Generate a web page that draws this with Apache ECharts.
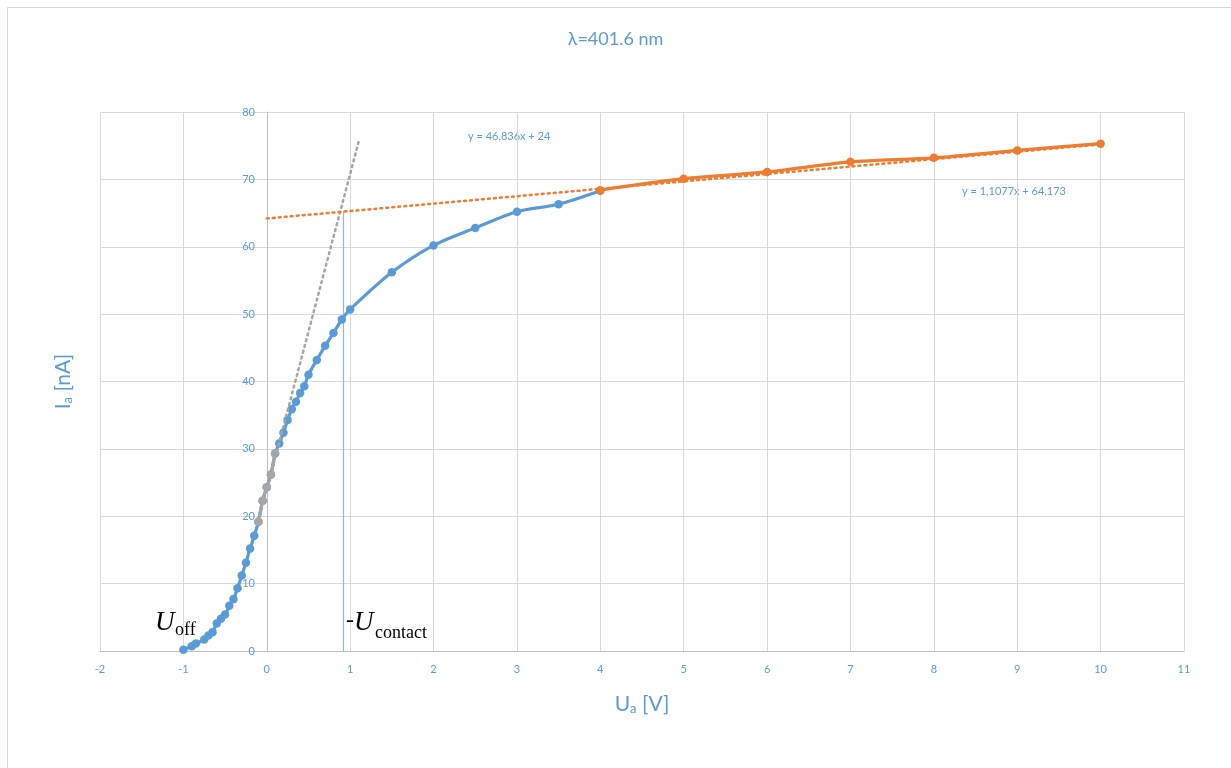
<!DOCTYPE html>
<html>
<head>
<meta charset="utf-8">
<script src="https://cdn.jsdelivr.net/npm/echarts@6/dist/echarts.min.js"></script>
<style>
html,body{margin:0;padding:0;background:#fff;}
#frame{position:absolute;left:7px;top:7px;width:1230px;height:770px;border:1px solid #d9d9d9;box-sizing:border-box;}
#c{position:absolute;left:0;top:0;width:1231px;height:768px;}
</style>
</head>
<body>
<div id="frame"></div>
<div id="c"></div>
<script>
// ---- data ----
const titleText = 'λ=401.6 nm';
const xTicks = {min: -2, max: 11, interval: 1};
const yTicks = {min: 0, max: 80, interval: 10};
// measured curve (blue)
const blueU = [-1.0,-0.9,-0.85,-0.75,-0.7,-0.65,-0.6,-0.55,-0.5,-0.45,-0.4,-0.35,-0.3,-0.25,-0.2,-0.15,-0.1,-0.05,0,0.05,0.1,0.15,0.2,0.25,0.3,0.35,0.4,0.45,0.5,0.6,0.7,0.8,0.9,1.0,1.5,2.0,2.5,3.0,3.5,4.0];
const blueI = [0.2,0.7,1.1,1.7,2.3,2.8,4.1,4.8,5.4,6.7,7.7,9.3,11.2,13.1,15.2,17.1,19.2,22.3,24.3,26.2,29.3,30.8,32.4,34.3,35.9,37.0,38.3,39.3,41.0,43.2,45.3,47.2,49.2,50.7,56.2,60.2,62.8,65.2,66.3,68.3];
// points used for the steep fit (grey)
const greyU = [-0.1,-0.05,0,0.05,0.1];
const greyI = [19.2,22.3,24.3,26.2,29.3];
// saturation points (orange)
const orangeU = [4,5,6,7,8,9,10];
const orangeI = [68.4,70.1,71.1,72.6,73.2,74.3,75.3];
// trendlines (end points, from the displayed equations)
const trendSteepU = [-0.1, 1.1];
const trendSteepI = [19.3, 75.5];
const trendSatU = [0, 10];
const trendSatI = [64.2, 75.2];
const trendSteepLabel = 'y = 46,836x + 24';
const trendSatLabel = 'y = 1,1077x + 64,173';
// -U_contact marker
const contactU = [0.92, 0.92];
const contactI = [0, 65.2];

const zip = (a, b) => a.map((v, i) => [v, b[i]]);

const BLUE = '#5B9BD5', ORANGE = '#ED7D31', GREY = '#A5A5A5';
const FONT = 'Lato, "Open Sans", sans-serif';
const SERIF = '"Liberation Serif", "DejaVu Serif", serif';

const chart = echarts.init(document.getElementById('c'), null, {renderer: 'canvas'});
chart.setOption({
  animation: false,
  title: {
    text: titleText, left: 'center', top: 25,
    textStyle: {color: BLUE, fontSize: 18, fontWeight: 'normal', fontFamily: FONT}
  },
  grid: {left: 100, right: 47, top: 112, bottom: 117, containLabel: false, outerBoundsMode: 'none'},
  xAxis: {
    type: 'value', min: xTicks.min, max: xTicks.max, interval: xTicks.interval,
    axisLine: {show: true, onZero: true, lineStyle: {color: '#bfbfbf', width: 1}},
    axisTick: {show: false},
    axisLabel: {color: BLUE, fontSize: 11, fontFamily: FONT, margin: 13},
    splitLine: {show: true, lineStyle: {color: '#d9d9d9', width: 1}},
    name: '{m|U}{s|a}{m| [V]}', nameLocation: 'middle', nameGap: 38,
    nameTextStyle: {
      color: BLUE, fontFamily: FONT,
      rich: {
        m: {fontSize: 21, color: BLUE, fontFamily: FONT, verticalAlign: 'bottom', lineHeight: 26},
        s: {fontSize: 13, color: BLUE, fontFamily: FONT, verticalAlign: 'bottom', lineHeight: 16}
      }
    }
  },
  yAxis: {
    type: 'value', min: yTicks.min, max: yTicks.max, interval: yTicks.interval,
    axisLine: {show: true, onZero: true, lineStyle: {color: '#bfbfbf', width: 1}},
    axisTick: {show: false},
    axisLabel: {color: BLUE, fontSize: 11, fontFamily: FONT, margin: -155},
    splitLine: {show: true, lineStyle: {color: '#d9d9d9', width: 1}},
    name: '{m|I}{s|a}{m| [nA]}', nameLocation: 'middle', nameGap: 26, nameRotate: 90,
    nameTextStyle: {
      color: BLUE, fontFamily: FONT,
      rich: {
        m: {fontSize: 21, color: BLUE, fontFamily: FONT, verticalAlign: 'bottom', lineHeight: 26},
        s: {fontSize: 13, color: BLUE, fontFamily: FONT, verticalAlign: 'bottom', lineHeight: 16}
      }
    }
  },
  series: [
    {
      type: 'line', name: 'contact', data: zip(contactU, contactI), symbol: 'none',
      lineStyle: {color: '#8DB9E4', width: 1.2}, z: 1, silent: true
    },
    {
      type: 'line', name: 'measured', data: zip(blueU, blueI), smooth: 0.3,
      symbol: 'circle', symbolSize: 8.5,
      itemStyle: {color: BLUE}, lineStyle: {color: BLUE, width: 3.2}, z: 2
    },
    {
      type: 'line', name: 'fit points', data: zip(greyU, greyI), smooth: 0.3,
      symbol: 'circle', symbolSize: 8.5,
      itemStyle: {color: GREY}, lineStyle: {color: GREY, width: 3.2}, z: 3
    },
    {
      type: 'line', name: 'saturation', data: zip(orangeU, orangeI), smooth: 0.3,
      symbol: 'circle', symbolSize: 8.5,
      itemStyle: {color: ORANGE}, lineStyle: {color: ORANGE, width: 3.2}, z: 4
    },
    {
      type: 'line', name: 'trend steep', data: zip(trendSteepU, trendSteepI), symbol: 'none',
      lineStyle: {color: GREY, width: 2.5, type: [2, 4], cap: 'round'}, z: 5
    },
    {
      type: 'line', name: 'trend sat', data: zip(trendSatU, trendSatI), symbol: 'none',
      lineStyle: {color: ORANGE, width: 2.5, type: [2, 4], cap: 'round'}, z: 5
    }
  ],
  graphic: [
    {type: 'text', left: 468, top: 131, style: {text: trendSteepLabel, fill: BLUE, fontSize: 11, fontFamily: FONT}},
    {type: 'text', left: 962, top: 186, style: {text: trendSatLabel, fill: BLUE, fontSize: 11, fontFamily: FONT}},
    {type: 'text', left: 155, top: 609, z: 10, style: {text: 'U', fill: '#000', fontSize: 27, fontStyle: 'italic', fontFamily: SERIF}},
    {type: 'text', left: 175, top: 621, z: 10, style: {text: 'off', fill: '#000', fontSize: 18, fontFamily: SERIF}},
    {type: 'text', left: 346, top: 609, z: 10, style: {text: '-', fill: '#000', fontSize: 24, fontFamily: SERIF}},
    {type: 'text', left: 354, top: 609, z: 10, style: {text: 'U', fill: '#000', fontSize: 27, fontStyle: 'italic', fontFamily: SERIF}},
    {type: 'text', left: 375, top: 624, z: 10, style: {text: 'contact', fill: '#000', fontSize: 18, fontFamily: SERIF}}
  ]
});
</script>
</body>
</html>
